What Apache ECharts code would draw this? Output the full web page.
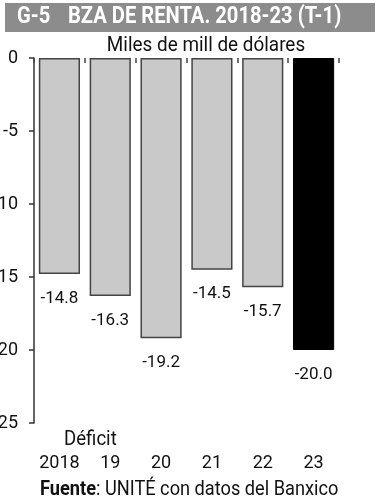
<!DOCTYPE html>
<html><head><meta charset="utf-8">
<script src="https://cdn.jsdelivr.net/npm/echarts@6/dist/echarts.min.js"></script>
<style>html,body{margin:0;padding:0;background:#fff}#c{width:384px;height:500px}</style>
</head><body><div id="c"></div>
<script>
const categories = ['2018','19','20','21','22','23'];
const values = [-14.8, -16.3, -19.2, -14.5, -15.7, -20.0];
const yTicks = [0, -5, -10, -15, -20, -25];
const titleCode = 'G-5';
const title = 'BZA DE RENTA. 2018-23 (T-1)';
const subtitle = 'Miles de mill de dólares';
const note = 'Déficit';

const FONT = 'Roboto, sans-serif';
const chart = echarts.init(document.getElementById('c'));
chart.setOption({
  animation: false,
  backgroundColor: '#fff',
  grid: { left: 34, right: 45, top: 58, bottom: 77, outerBoundsMode: 'none', containLabel: false },
  xAxis: [{
    type: 'category', data: categories, position: 'top',
    axisLine: { show: false },
    axisTick: { show: true, inside: true, length: 5, lineStyle: { color: '#444', width: 1.5 } },
    axisLabel: { show: false }
  }, {
    type: 'category', data: categories, position: 'bottom',
    axisLine: { show: false }, axisTick: { show: false },
    axisLabel: { interval: 0, margin: 31, fontFamily: FONT, fontSize: 18, color: '#111' }
  }],
  yAxis: {
    type: 'value', min: -25, max: 0, interval: 5,
    axisLine: { show: true, lineStyle: { color: '#333', width: 1.5 } },
    axisTick: { show: true, length: 5, lineStyle: { color: '#333', width: 1.5 } },
    splitLine: { show: false },
    axisLabel: { margin: 16, fontFamily: FONT, fontSize: 18, color: '#111',
      formatter: v => yTicks.includes(v) ? String(v) : '' }
  },
  series: [{
    type: 'bar', xAxisIndex: 0,
    barCategoryGap: '19%',
    data: values.map((v, i) => ({
      value: v,
      itemStyle: i === values.length - 1 ? { color: '#000', borderColor: '#000', borderWidth: 1 } : { color: '#c9c9c9', borderColor: '#444', borderWidth: 1.5 }
    })),
    label: { show: true, position: 'bottom', distance: 16, fontFamily: FONT, fontSize: 17, color: '#111',
      formatter: p => p.value.toFixed(1) }
  }],
  graphic: [
    { type: 'rect', shape: { x: 5, y: 3, width: 370, height: 29 }, style: { fill: '#8c8c8c' } },
    { type: 'text', x: 17, y: 5, scaleX: 0.84, style: { text: titleCode, fill: '#fff', fontFamily: FONT, fontWeight: 'bold', fontSize: 24 } },
    { type: 'text', x: 68, y: 5, scaleX: 0.84, style: { text: title, fill: '#fff', fontFamily: FONT, fontWeight: 'bold', fontSize: 24 } },
    { type: 'text', x: 206, y: 35, scaleX: 0.9, style: { text: subtitle, fill: '#111', fontFamily: FONT, fontSize: 21, textAlign: 'center' } },
    { type: 'text', x: 64, y: 430, scaleX: 0.93, style: { text: note, fill: '#111', fontFamily: FONT, fontSize: 20 } },
    { type: 'text', x: 40, y: 480, scaleX: 0.91, style: { rich: {
        b: { fontFamily: FONT, fontWeight: 'bold', fontSize: 20, fill: '#111' },
        n: { fontFamily: FONT, fontSize: 20, fill: '#111' } },
        text: '{b|Fuente}{n|: UNITÉ con datos del Banxico}' } }
  ]
});
</script></body></html>
